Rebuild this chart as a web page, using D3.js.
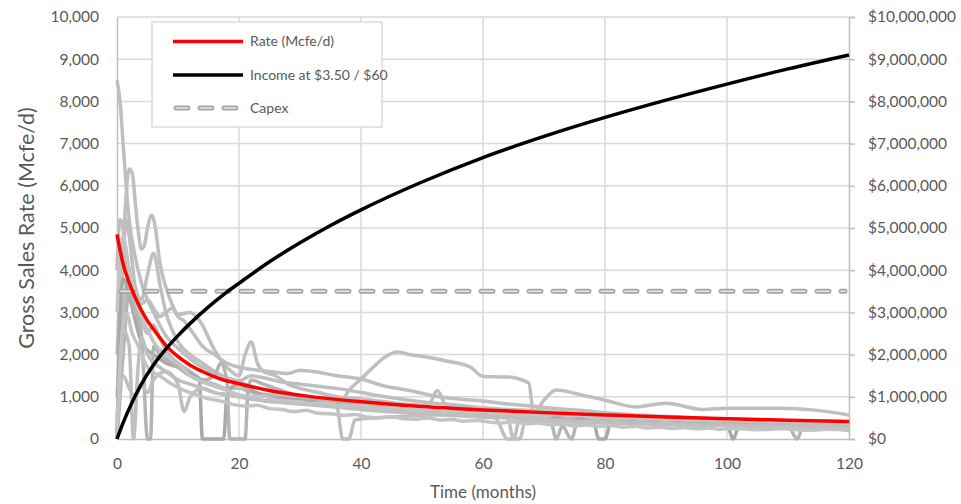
<!DOCTYPE html>
<html>
<head>
<meta charset="utf-8">
<script src="https://cdn.jsdelivr.net/npm/d3@7"></script>
<style>
  body { margin: 0; background: #fff; }
  text { font-family: Lato, "Noto Sans", sans-serif; fill: #595959; }
</style>
</head>
<body>
<div id="chart"></div>
<script>
// Chart Params
const svgWidth = 961;
const svgHeight = 504;
const margin = { top: 17, right: 112, bottom: 65, left: 117 };
const width = svgWidth - margin.left - margin.right;
const height = svgHeight - margin.top - margin.bottom;

// ---- data ----
const xTicks = [0, 20, 40, 60, 80, 100, 120];
const rateTicks = [0, 1000, 2000, 3000, 4000, 5000, 6000, 7000, 8000, 9000, 10000];
const incomeTicks = [0, 1e6, 2e6, 3e6, 4e6, 5e6, 6e6, 7e6, 8e6, 9e6, 1e7];

// type curve rate (Mcfe/d)
const rateMonths = [0, 1, 2, 3, 4, 5, 6, 8, 10, 12, 14, 17, 20, 25, 30, 40, 50, 60, 70, 80, 90, 100, 110, 120];
const rateValues = [4850, 4150, 3700, 3350, 3050, 2800, 2600, 2220, 1950, 1750, 1600, 1420, 1310, 1150, 1040, 880, 770, 690, 625, 570, 520, 480, 445, 415];

// cumulative income ($)
const incomeMonths = [0, 1, 2, 4, 6, 8, 10, 12, 15, 18, 20, 25, 30, 35, 40, 50, 60, 70, 80, 90, 100, 110, 120];
const incomeValues = [0, 380000, 720000, 1300000, 1760000, 2130000, 2450000, 2740000, 3130000, 3480000, 3690000, 4200000,
  4650000, 5060000, 5430000, 6090000, 6670000, 7170000, 7620000, 8030000, 8410000, 8770000, 9100000];

const capexValue = 3500000;

// individual wells [month, Mcfe/d]
const well1 = [[0,8500],[0.5,8000],[1,7000],[1.5,6000],[2,5200],[3,4300],[4,3700],[5,3300],[6,3000],[7,2700],[8,2450],[10,2150],[12,1900],[14,1700],[16,1550],[18,1450],[20,1380],[22,1500],[24,1450],[27,1350],[30,1300],[33,1250],[36,1200],[40,1100],[44,1000],[48,920],[52,850],[56,800],[60,740],[64,700],[68,680],[72,640],[76,600],[80,560],[85,540],[90,520],[95,480],[100,470],[105,440],[110,420],[115,400],[120,380]];
const well2 = [[0,2000],[0.5,3500],[1,4500],[1.5,5800],[2,6400],[2.5,6300],[3,5600],[3.5,4900],[4,4500],[4.5,4600],[5,5000],[5.7,5300],[6.3,5000],[7,4200],[8,3600],[9,3200],[10,2900],[11,2800],[12,2600],[13,2400],[14,2200],[16,2000],[18,1800],[20,1700],[22,1650],[25,1600],[28,1550],[30,1630],[33,1580],[36,1500],[40,1420],[44,1250],[48,1150],[52,1020],[56,950],[60,900],[64,830],[68,780],[72,720],[76,680],[80,620],[85,570],[90,540],[95,500],[100,470],[105,460],[110,430],[115,410],[120,390]];
const well3 = [[0,0],[0.5,2500],[1,4200],[1.5,5200],[2,4800],[3,3600],[4,3300],[5,3900],[6,4400],[7,3700],[8,3000],[9,2600],[10,2300],[12,2000],[14,1800],[16,1600],[18,1450],[20,1350],[22,1250],[25,1150],[28,1050],[31,950],[34,900],[36,800],[37,0],[38,0],[39,450],[42,500],[46,530],[50,560],[55,580],[60,560],[64,520],[65,0],[66,0],[67,450],[70,480],[75,440],[80,400],[85,380],[90,380],[95,350],[100,330],[105,320],[110,300],[115,290],[120,270]];
const well4 = [[0,1000],[1,3000],[2,3800],[3,3200],[4,2800],[5,2500],[6,2700],[7,2400],[8,2100],[10,1800],[12,1600],[14,1400],[16,1300],[18,1200],[20,1200],[22,1100],[25,1050],[28,1000],[31,950],[34,900],[37,950],[38,1150],[40,1420],[42,1700],[44,1950],[46,2060],[48,2000],[50,1960],[54,1850],[58,1700],[60,1480],[64,1470],[67.5,1330],[68.3,600],[70,920],[72,1160],[76,1050],[80,920],[85,760],[90,850],[96,700],[100,730],[109,730],[114,690],[120,570]];
const well5 = [[0,4000],[0.5,5200],[1,5000],[1.5,4200],[2,3800],[3,3500],[4,3200],[5,3300],[6,3100],[7,2900],[8,3000],[9,3100],[10,2950],[12,3000],[13,2900],[14,2700],[15,2400],[16,2100],[18,1700],[20,1500],[21,2000],[22,2300],[23,1800],[24,1600],[26,1500],[28,1300],[30,1200],[33,1100],[36,1000],[40,950],[44,880],[48,820],[51,800],[52.5,1150],[54,780],[56,720],[60,680],[64,640],[68,600],[72,560],[76,520],[80,480],[85,450],[90,420],[95,400],[100,380],[105,360],[110,340],[115,330],[120,310]];
const well6 = [[0,0],[0.5,3000],[1,3800],[2,3400],[3,2800],[4,2300],[5,2100],[6,2000],[7,1900],[8,1800],[10,1700],[12,1550],[13.5,1400],[14,0],[17.5,0],[18,1000],[19,1250],[20,1300],[22,1150],[25,1000],[28,950],[31,900],[34,850],[37,800],[40,750],[45,700],[50,650],[55,620],[60,580],[65,540],[70,500],[75,480],[78,450],[79,0],[80,0],[81,400],[85,390],[90,370],[95,350],[100,330],[101,0],[102,300],[106,290],[110,270],[115,260],[120,250]];
const well7 = [[0,0],[1,2000],[2,3500],[3,3000],[4,2500],[5,0],[5.5,0],[6,2200],[7,2000],[8,1900],[10,1700],[12,1500],[14,1400],[16,1500],[17,1800],[18,1400],[18.5,0],[21,0],[21.5,1200],[22,1400],[24,1300],[26,1200],[28,1100],[30,1000],[33,950],[36,880],[40,800],[44,760],[48,700],[52,660],[56,620],[60,580],[64,540],[68,520],[71,480],[72,0],[73,300],[74.5,0],[75.5,400],[80,420],[85,400],[90,390],[95,370],[100,360],[105,340],[110,320],[111.5,0],[112.5,300],[115,290],[120,280]];
const well8 = [[0,500],[1,1500],[2,1200],[3,1000],[4,1300],[5,1100],[6,1400],[8,1600],[10,1300],[11,650],[12,1000],[14,1200],[16,1100],[18,1050],[20,1000],[22,950],[25,900],[28,850],[31,820],[34,780],[37,750],[40,720],[44,680],[48,640],[52,600],[56,560],[60,530],[64,500],[68,480],[72,450],[76,420],[80,400],[85,380],[90,360],[95,340],[100,320],[105,300],[110,290],[115,280],[120,260]];
const well9 = [[0,0],[0.5,1800],[1,2600],[2,2200],[2.7,0],[3.5,1800],[4,2400],[5,2000],[6,1800],[7,1700],[8,1600],[10,1400],[12,1300],[14,1200],[16,1100],[18,1050],[20,1000],[22,950],[24,900],[27,870],[30,830],[33,800],[36,760],[40,700],[44,650],[48,620],[52,580],[56,550],[60,520],[62,500],[64,0],[65,0],[66,450],[68,430],[72,410],[76,400],[80,380],[85,360],[90,340],[95,330],[100,320],[105,310],[110,300],[115,290],[120,270]];
const well10 = [[0,3000],[1,4800],[2,4000],[3,3300],[4,2900],[5,2600],[6,2300],[8,2000],[10,1800],[12,1500],[14,1350],[16,1250],[18,1150],[20,1050],[22,1000],[24,1020],[26,930],[28,900],[30,880],[32,840],[34,860],[36,800],[38,780],[40,800],[42,740],[44,720],[46,750],[48,690],[50,680],[52,700],[54,640],[56,660],[58,620],[60,640],[62,590],[64,600],[66,560],[68,580],[70,540],[72,600],[74,530],[76,560],[78,500],[80,520],[82,480],[84,510],[86,470],[88,490],[90,450],[92,480],[94,440],[96,460],[98,430],[100,450],[104,420],[108,440],[112,400],[116,420],[120,390]];
const well11 = [[0,0],[0.7,2200],[1.5,3000],[2.5,2500],[3.5,2200],[5,1700],[7,1500],[9,1300],[11,1150],[13,1050],[15,950],[17,900],[19,820],[21,780],[23,800],[25,720],[27,700],[29,650],[31,680],[33,610],[35,600],[37,560],[39,580],[41,520],[43,500],[45,530],[47,480],[49,470],[51,500],[53,450],[55,460],[57,420],[59,440],[61,400],[63,380],[65,410],[67,360],[69,380],[71,340],[73,350],[75,310],[77,330],[79,300],[81,320],[83,280],[85,300],[87,260],[89,280],[91,250],[93,270],[95,240],[97,260],[99,230],[101,250],[105,220],[109,240],[113,210],[117,230],[120,200]];
const wells = [well1, well2, well3, well4, well5, well6, well7, well8, well9, well10, well11];
const wellColors = ["#bfbfbf", "#bfbfbf", "#bfbfbf", "#bfbfbf", "#bfbfbf", "#a8a8a8", "#b4b4b4", "#bfbfbf", "#bfbfbf", "#c4c4c4", "#c4c4c4"];

const legendLabels = ["Rate (Mcfe/d)", "Income at $3.50 / $60", "Capex"];

// ---- svg ----
const svg = d3.select("#chart")
  .append("svg")
  .attr("width", svgWidth)
  .attr("height", svgHeight);

const chartGroup = svg.append("g")
  .attr("transform", `translate(${margin.left}, ${margin.top})`);

// scales
const xScale = d3.scaleLinear().domain([0, 120]).range([0, width]);
const yRate = d3.scaleLinear().domain([0, 10000]).range([height, 0]);
const yIncome = d3.scaleLinear().domain([0, 1e7]).range([height, 0]);

// gridlines
chartGroup.append("g")
  .selectAll("line.h")
  .data(rateTicks.slice(1))
  .enter()
  .append("line")
  .attr("x1", 0).attr("x2", width)
  .attr("y1", d => yRate(d)).attr("y2", d => yRate(d))
  .attr("stroke", "#d9d9d9").attr("stroke-width", 1.5);

chartGroup.append("g")
  .selectAll("line.v")
  .data(xTicks.slice(1, -1))
  .enter()
  .append("line")
  .attr("y1", 0).attr("y2", height)
  .attr("x1", d => xScale(d)).attr("x2", d => xScale(d))
  .attr("stroke", "#d9d9d9").attr("stroke-width", 1.5);

// axes
const leftAxis = d3.axisLeft(yRate).tickValues(rateTicks).tickSize(0).tickPadding(18).tickFormat(d3.format(","));
const rightAxis = d3.axisRight(yIncome).tickValues(incomeTicks).tickSize(6).tickPadding(13).tickFormat(d => "$" + d3.format(",")(d));
const bottomAxis = d3.axisBottom(xScale).tickValues(xTicks).tickSize(0).tickPadding(19);

function styleAxis(g) {
  g.selectAll("path, line").attr("stroke", "#bfbfbf").attr("stroke-width", 1.5);
  g.selectAll("text").attr("fill", "#595959").style("font-size", "15.5px");
}

chartGroup.append("g").call(leftAxis).call(styleAxis);
chartGroup.append("g").attr("transform", `translate(${width}, 0)`).call(rightAxis).call(styleAxis);
chartGroup.append("g").attr("transform", `translate(0, ${height})`).call(bottomAxis).call(styleAxis);

// axis titles
svg.append("text")
  .attr("transform", `translate(34, ${margin.top + height / 2}) rotate(-90)`)
  .attr("text-anchor", "middle")
  .style("font-size", "21.5px")
  .text("Gross Sales Rate (Mcfe/d)");

svg.append("text")
  .attr("x", margin.left + width / 2)
  .attr("y", 498)
  .attr("text-anchor", "middle")
  .style("font-size", "17px")
  .text("Time (months)");

// well lines
const wellLine = d3.line()
  .x(d => xScale(d[0]))
  .y(d => yRate(d[1]))
  .curve(d3.curveMonotoneX);

chartGroup.append("g")
  .selectAll("path")
  .data(wells)
  .enter()
  .append("path")
  .attr("d", wellLine)
  .attr("fill", "none")
  .attr("stroke", (d, i) => wellColors[i])
  .attr("stroke-width", 3.5)
  .attr("stroke-linejoin", "round");

// capex dashed line (outlined dashes)
function drawCapex(g, x1, x2, y) {
  g.append("line")
    .attr("x1", x1).attr("x2", x2).attr("y1", y).attr("y2", y)
    .attr("stroke", "#a6a6a6").attr("stroke-width", 5)
    .attr("stroke-dasharray", "12 12").attr("stroke-linecap", "round");
  g.append("line")
    .attr("x1", x1).attr("x2", x2).attr("y1", y).attr("y2", y)
    .attr("stroke", "#e8e8e8").attr("stroke-width", 1.6)
    .attr("stroke-dasharray", "12 12").attr("stroke-linecap", "round");
}
drawCapex(chartGroup, 4, width - 4, yIncome(capexValue));

// rate line
const rateLine = d3.line()
  .x(d => xScale(d[0]))
  .y(d => yRate(d[1]))
  .curve(d3.curveMonotoneX);

chartGroup.append("path")
  .datum(rateMonths.map((m, i) => [m, rateValues[i]]))
  .attr("d", rateLine)
  .attr("fill", "none")
  .attr("stroke", "#ff0000")
  .attr("stroke-width", 3.5);

// income line
const incomeLine = d3.line()
  .x(d => xScale(d[0]))
  .y(d => yIncome(d[1]))
  .curve(d3.curveMonotoneX);

chartGroup.append("path")
  .datum(incomeMonths.map((m, i) => [m, incomeValues[i]]))
  .attr("d", incomeLine)
  .attr("fill", "none")
  .attr("stroke", "#000000")
  .attr("stroke-width", 3.5);

// legend
const legend = svg.append("g").attr("transform", "translate(152, 22)");
legend.append("rect")
  .attr("width", 230).attr("height", 105)
  .attr("fill", "#ffffff")
  .attr("stroke", "#d6dce5").attr("stroke-width", 1.5);

const legendY = [19.5, 53, 86];
legend.append("line").attr("x1", 21).attr("x2", 91).attr("y1", legendY[0]).attr("y2", legendY[0])
  .attr("stroke", "#ff0000").attr("stroke-width", 3.5);
legend.append("line").attr("x1", 21).attr("x2", 91).attr("y1", legendY[1]).attr("y2", legendY[1])
  .attr("stroke", "#000000").attr("stroke-width", 3.5);
drawCapex(legend, 24, 88, legendY[2]);

legend.selectAll("text.lg")
  .data(legendLabels)
  .enter()
  .append("text")
  .attr("x", 98)
  .attr("y", (d, i) => legendY[i])
  .attr("dy", "0.35em")
  .style("font-size", "14px")
  .text(d => d);
</script>
</body>
</html>
